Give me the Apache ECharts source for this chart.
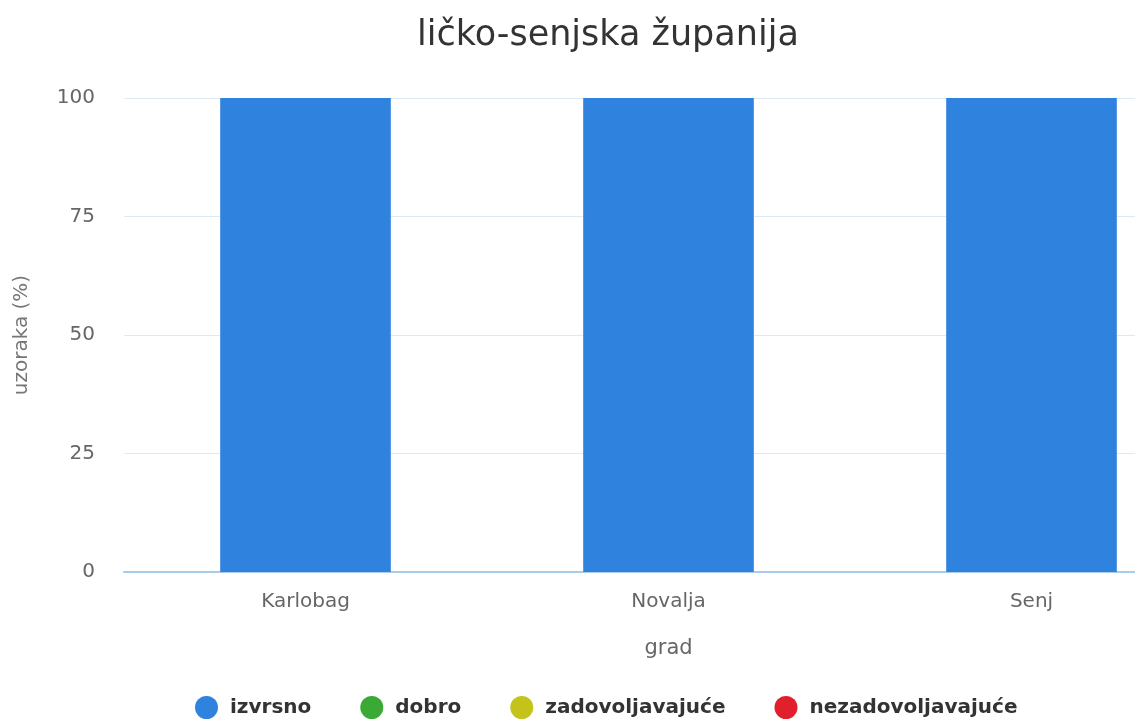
<!DOCTYPE html>
<html>
<head>
<meta charset="utf-8">
<title>ličko-senjska županija</title>
<script src="https://cdn.jsdelivr.net/npm/echarts@6/dist/echarts.min.js"></script>
<style>
  html, body { margin: 0; padding: 0; background: #fff; }
  #chart { width: 1135px; height: 722px; }
</style>
</head>
<body>
<div id="chart"></div>
<script>
// podaci
const gradovi = ['Karlobag', 'Novalja', 'Senj']
const izvrsno = [100, 100, 100]
const dobro = [0, 0, 0]
const zadovoljavajuce = [0, 0, 0]
const nezadovoljavajuce = [0, 0, 0]
const yTicks = [0, 25, 50, 75, 100]

const boje = {
  izvrsno: '#2f82dd',
  dobro: '#3aaa35',
  zadovoljavajuce: '#c4c31a',
  nezadovoljavajuce: '#e0202a'
}

const font = '"DejaVu Sans", sans-serif'

const chart = echarts.init(document.getElementById('chart'))

const serija = (name, data, color) => ({
  name,
  type: 'bar',
  stack: 'ukupno',
  data,
  barWidth: '47%',
  itemStyle: { color },
  emphasis: { disabled: true }
})

chart.setOption({
  animation: false,
  textStyle: { fontFamily: font },
  title: {
    text: 'ličko-senjska županija',
    left: 412,
    top: 13,
    textStyle: { fontFamily: font, fontSize: 35, fontWeight: 'normal', color: '#333' }
  },
  legend: {
    top: 691,
    left: 190,
    icon: 'circle',
    itemWidth: 23,
    itemHeight: 23,
    itemGap: 49,
    textStyle: { fontFamily: font, fontSize: 20, fontWeight: 'bold', color: '#333', padding: [0, 0, 0, 7] },
    data: ['izvrsno', 'dobro', 'zadovoljavajuće', 'nezadovoljavajuće']
  },
  // plot runs past the right edge of the picture, as in the cropped original
  grid: { left: 124, width: 1089, top: 98, bottom: 150, containLabel: false, outerBoundsMode: 'none' },
  xAxis: {
    type: 'category',
    data: gradovi,
    name: 'grad',
    nameLocation: 'middle',
    nameGap: 66,
    nameTextStyle: { fontFamily: font, fontSize: 21, color: '#666' },
    axisLine: { lineStyle: { color: '#a9cbee', width: 2 } },
    axisTick: { show: false },
    axisLabel: { fontFamily: font, fontSize: 20, color: '#666', margin: 20 }
  },
  yAxis: {
    type: 'value',
    min: yTicks[0],
    max: yTicks[yTicks.length - 1],
    interval: 25,
    name: 'uzoraka (%)',
    nameLocation: 'middle',
    nameGap: 92,
    nameTextStyle: { fontFamily: font, fontSize: 20, color: '#777' },
    axisLabel: { fontFamily: font, fontSize: 20, color: '#666', margin: 29 },
    splitLine: { lineStyle: { color: '#dfe9f3', width: 1 } }
  },
  series: [
    serija('izvrsno', izvrsno, boje.izvrsno),
    serija('dobro', dobro, boje.dobro),
    serija('zadovoljavajuće', zadovoljavajuce, boje.zadovoljavajuce),
    serija('nezadovoljavajuće', nezadovoljavajuce, boje.nezadovoljavajuce)
  ]
})
</script>
</body>
</html>
